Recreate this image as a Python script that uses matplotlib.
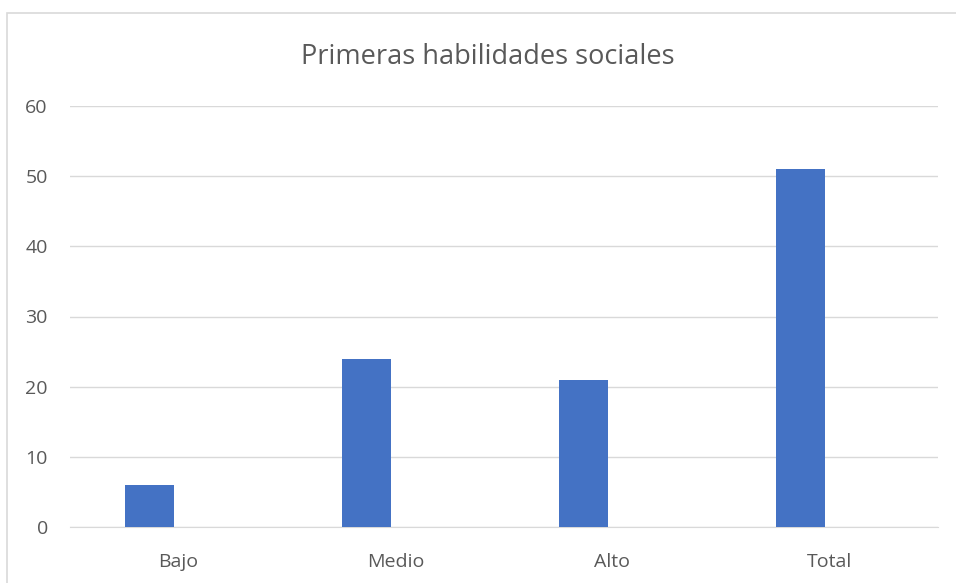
import matplotlib.pyplot as plt
import matplotlib.patches as patches
import numpy as np

plt.rcParams['font.family'] = ['Open Sans', 'DejaVu Sans']

categories = ['Bajo', 'Medio', 'Alto', 'Total']
values = [6, 24, 21, 51]
yticks = [0, 10, 20, 30, 40, 50, 60]

W, H = 956, 583
fig = plt.figure(figsize=(W / 100, H / 100), dpi=100)
ax = fig.add_axes([70 / W, 1 - 527 / H, (938 - 70) / W, (527 - 106) / H])

# recuadro exterior del gráfico
fig.patches.append(patches.Rectangle((7 / W, -0.01), 1.0, 1 - 13 / H + 0.01,
                                     transform=fig.transFigure, fill=False,
                                     edgecolor='#d9d9d9', linewidth=1.2))

x = np.arange(len(categories))
ax.bar(x - 0.135, values, width=0.225, color='#4472c4', zorder=3)

ax.set_xlim(-0.5, len(categories) - 0.5)
ax.set_ylim(0, 60)
ax.set_yticks(yticks)
ax.set_xticks(x)
ax.set_xticklabels(categories)
ax.tick_params(axis='both', length=0, labelsize=14, colors='#595959')
ax.tick_params(axis='x', pad=19)
ax.tick_params(axis='y', pad=16)
ax.grid(axis='y', color='#d9d9d9', linewidth=1, zorder=0)
for side in ['top', 'right', 'left']:
    ax.spines[side].set_visible(False)
ax.spines['bottom'].set_color('#d9d9d9')

fig.text((299 + 676) / 2 / W, 1 - 57 / H, 'Primeras habilidades sociales',
         ha='center', va='center', fontsize=19.5, color='#595959')

fig.savefig('out.png', dpi=100)
